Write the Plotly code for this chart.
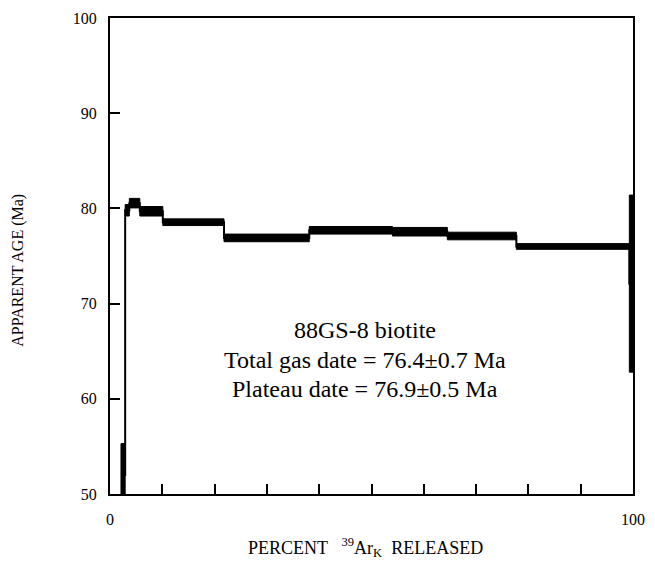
import plotly.graph_objects as go

# Step data (cumulative % 39ArK released, apparent age, half height of box)
pct_lo = [2.1, 2.9, 3.7, 5.7, 10.1, 21.8, 38.1, 54.0, 64.5, 77.7, 99.3]
pct_hi = [2.9, 3.7, 5.7, 10.1, 21.8, 38.1, 54.0, 64.5, 77.7, 99.3, 100.0]
ages = [52.0, 79.8, 80.55, 79.7, 78.55, 76.9, 77.7, 77.55, 77.1, 76.0, 72.1]
errs = [3.3, 0.6, 0.5, 0.5, 0.35, 0.4, 0.4, 0.45, 0.4, 0.3, 9.3]

x_label_vals = [0, 100]
x_minor_vals = [10, 20, 30, 40, 50, 60, 70, 80, 90]
y_tick_vals = [50, 60, 70, 80, 90, 100]

info_lines = ["88GS-8 biotite", "Total gas date = 76.4±0.7 Ma", "Plateau date = 76.9±0.5 Ma"]
info_ages = [67.25, 64.05, 61.0]
info_pct = 48.8

FONT = "Times New Roman, Liberation Serif, Times, serif"
NB = "\u00a0"

fig = go.Figure()

# connector step line
sx, sy = [], []
for lo, hi, a in zip(pct_lo, pct_hi, ages):
    sx += [lo, hi]
    sy += [a, a]
fig.add_trace(go.Scatter(x=sx, y=sy, mode="lines",
                         line=dict(color="black", width=2), hoverinfo="skip"))

# error boxes
bx, by = [], []
for lo, hi, a, e in zip(pct_lo, pct_hi, ages, errs):
    bx += [lo, hi, hi, lo, lo, None]
    by += [a - e, a - e, a + e, a + e, a - e, None]
fig.add_trace(go.Scatter(x=bx, y=by, mode="lines", fill="toself",
                         fillcolor="black", line=dict(color="black", width=1),
                         hoverinfo="skip"))

for txt, a in zip(info_lines, info_ages):
    fig.add_annotation(x=info_pct, y=a, xref="x", yref="y", text=txt,
                       showarrow=False, xanchor="center", yanchor="middle",
                       font=dict(family=FONT, size=24, color="black"))

fig.add_annotation(x=-0.175, y=0.47, xref="paper", yref="paper",
                   text="APPARENT AGE (Ma)", textangle=-90, showarrow=False,
                   xanchor="center", yanchor="middle",
                   font=dict(family=FONT, size=16, color="black"))
fig.add_annotation(x=0.489, y=-0.112, xref="paper", yref="paper",
                   text="PERCENT" + NB * 3 + "<sup>39</sup>Ar<sub>K</sub>" + NB * 2 + "RELEASED",
                   showarrow=False, xanchor="center", yanchor="middle",
                   font=dict(family=FONT, size=18, color="black"))

axis_common = dict(showline=True, linewidth=2, linecolor="black", mirror=True,
                   ticks="inside", ticklen=10, tickwidth=2, tickcolor="black",
                   showgrid=False, zeroline=False,
                   tickfont=dict(family=FONT, size=16, color="black"))

fig.update_xaxes(range=[0, 100], tickvals=x_label_vals,
                 minor=dict(tickvals=x_minor_vals, ticks="inside", ticklen=10,
                            tickwidth=2, tickcolor="black", showgrid=False),
                 ticklabelstandoff=10, **axis_common)
fig.update_yaxes(range=[50, 100], tickvals=y_tick_vals,
                 ticklabelstandoff=8, **axis_common)

fig.update_layout(width=655, height=561,
                  margin=dict(l=110, r=15, t=10, b=67),
                  plot_bgcolor="white", paper_bgcolor="white",
                  showlegend=False,
                  font=dict(family=FONT, color="black"))

fig.write_html("out.html")
